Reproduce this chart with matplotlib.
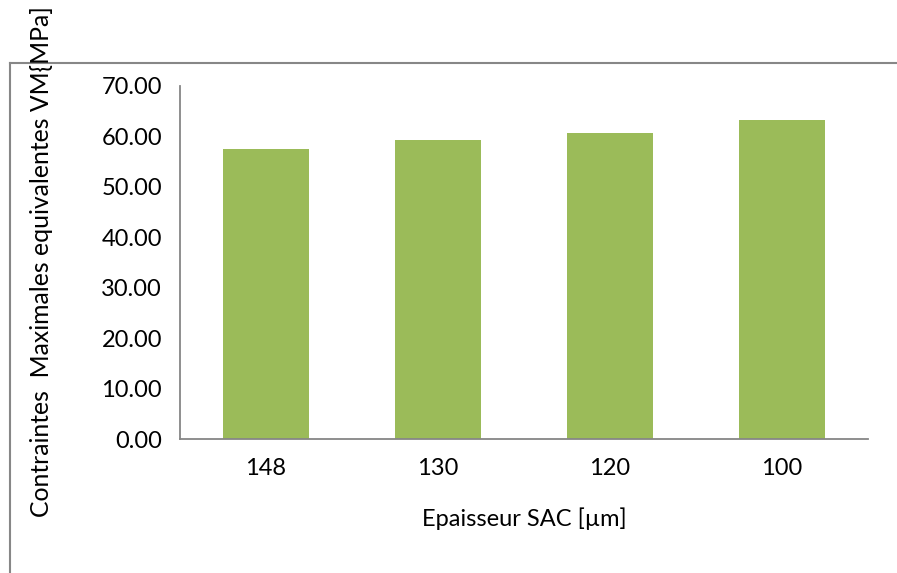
import matplotlib
matplotlib.use("Agg")
import matplotlib.pyplot as plt
from matplotlib.lines import Line2D

# Epaisseur SAC [µm] vs contraintes maximales equivalentes Von Mises [MPa]
categories = ["148", "130", "120", "100"]
stress_values = [57.5, 59.3, 60.7, 63.3]
y_ticks = [0, 10, 20, 30, 40, 50, 60, 70]

plt.rcParams["font.family"] = ["Lato", "DejaVu Sans"]

W, H = 897, 573
fig = plt.figure(figsize=(W / 100, H / 100), dpi=100)

ax = fig.add_axes([180 / W, (H - 439) / H, 688 / W, 353 / H])
x = range(len(categories))
ax.bar(x, stress_values, width=0.5, color="#9BBB59", zorder=2)

ax.set_xlim(-0.5, len(categories) - 0.5)
ax.set_ylim(0, 70)
ax.set_xticks(list(x))
ax.set_xticklabels(categories)
ax.set_yticks(y_ticks)
ax.set_yticklabels([f"{v:.2f}" for v in y_ticks])

for side in ("top", "right"):
    ax.spines[side].set_visible(False)
for side in ("left", "bottom"):
    ax.spines[side].set_color("#868686")
    ax.spines[side].set_linewidth(1.3)

ax.tick_params(axis="both", length=0, labelsize=17, colors="black")
ax.tick_params(axis="y", pad=13)
ax.tick_params(axis="x", pad=14)

ax.set_xlabel("Epaisseur SAC [µm]", fontsize=17, labelpad=20)

fig.text(42 / W, (H - 517) / H, "Contraintes  Maximales equivalentes VM{MPa]",
         rotation=90, ha="center", va="bottom", fontsize=17.8)

# chart area border (top and left edges)
border = "#878787"
fig.add_artist(Line2D([10 / W, 1.0], [(H - 63) / H, (H - 63) / H],
                      transform=fig.transFigure, color=border, lw=1.5))
fig.add_artist(Line2D([10 / W, 10 / W], [0, (H - 63) / H],
                      transform=fig.transFigure, color=border, lw=1.5))

fig.savefig("out.png", dpi=100)
